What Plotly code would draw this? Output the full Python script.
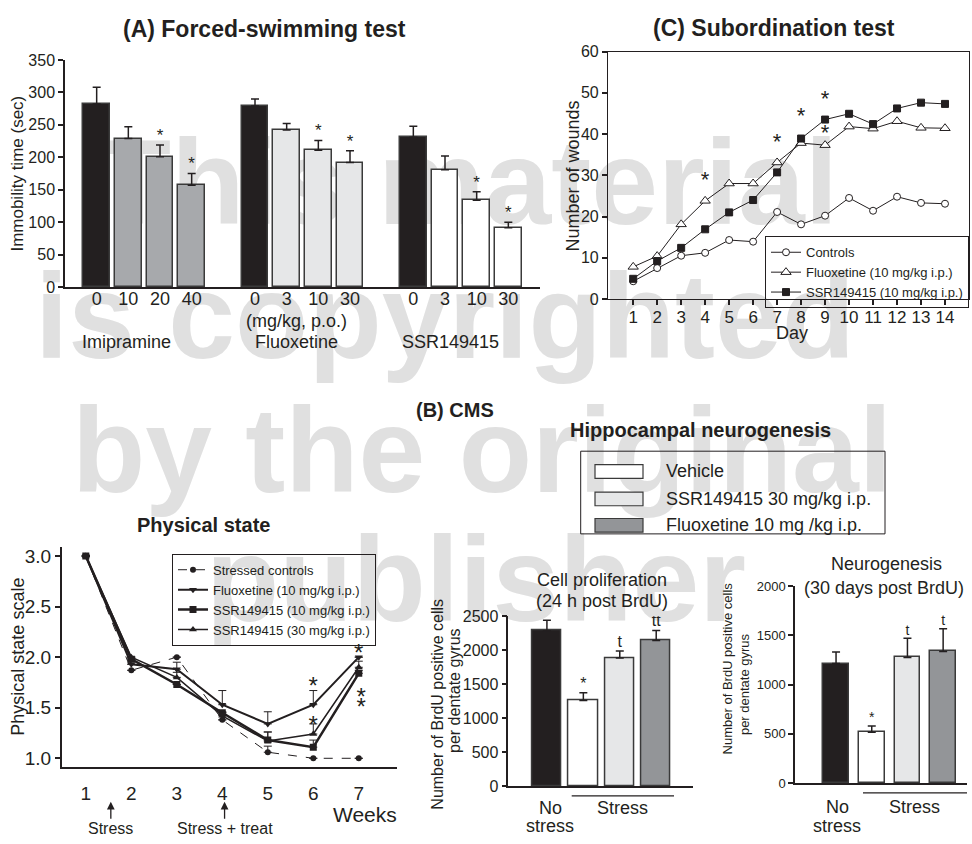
import plotly.graph_objects as go

W, H = 972, 844
FONT = "Liberation Sans, Arial, Helvetica, sans-serif"
INK = "#231f20"
WM = "#e0e0e0"

# ---------------- data ----------------
# (A) Forced-swimming test
fst_drugs = ["Imipramine", "Fluoxetine", "SSR149415"]
fst_doses = [["0", "10", "20", "40"], ["0", "3", "10", "30"], ["0", "3", "10", "30"]]
fst_mean = [[282, 229, 201, 157], [279, 242, 211, 192], [231, 181, 134, 91.5]]
fst_sem = [[26, 18, 18, 18], [11, 10, 15, 18], [17, 21, 13, 8.5]]
fst_sig = [["", "", "*", "*"], ["", "", "*", "*"], ["", "", "*", "*"]]
fst_vehicle_color = INK
fst_drug_colors = ["#a7a9ac", "#e6e7e8", "#ffffff"]

# (C) Subordination test
days = list(range(1, 15))
wounds_controls = [4.3, 7.5, 10.5, 11.2, 14.3, 13.9, 21.1, 18.1, 20.2, 24.5, 21.4, 24.8, 23.3, 23.1]
wounds_fluox = [7.8, 10.4, 18.1, 23.8, 28.0, 28.0, 33.1, 37.8, 37.3, 41.8, 41.3, 43.1, 41.5, 41.4]
wounds_ssr = [4.9, 9.2, 12.4, 16.9, 21.0, 24.0, 30.7, 38.9, 43.5, 44.9, 42.4, 46.2, 47.6, 47.3]
wound_star_day = [4, 7, 8, 9, 9]
wound_star_y = [28.6, 37.7, 44.0, 48.2, 39.9]

# (B) CMS - physical state
weeks = [1, 2, 3, 4, 5, 6, 7]
ps_names = ["Stressed controls", "Fluoxetine (10 mg/kg i.p.)",
            "SSR149415 (10 mg/kg i.p.)", "SSR149415 (30 mg/kg i.p.)"]
ps_controls = [3.0, 1.87, 2.0, 1.38, 1.06, 1.0, 1.0]
ps_controls_err = [0, 0, 0, 0, 0.06, 0, 0]
ps_fluox = [3.0, 1.93, 1.88, 1.53, 1.34, 1.53, 2.0]
ps_fluox_err = [0, 0, 0.07, 0.14, 0.12, 0.14, 0]
ps_ssr10 = [3.0, 1.98, 1.73, 1.45, 1.18, 1.11, 1.84]
ps_ssr10_err = [0, 0, 0, 0, 0.08, 0.07, 0.03]
ps_ssr30 = [3.0, 2.0, 1.80, 1.42, 1.17, 1.24, 1.90]
ps_ssr30_err = [0, 0, 0.05, 0.04, 0.09, 0.10, 0.06]
ps_star_week = [6, 6, 7, 7.05, 7.05]
ps_star_y = [1.69, 1.31, 2.02, 1.59, 1.49]
stress_weeks = [1.55, 4.05]
stress_labels = ["Stress", "Stress + treat"]

# (B) Hippocampal neurogenesis
hc_legend = ["Vehicle", "SSR149415 30 mg/kg i.p.", "Fluoxetine 10 mg /kg i.p."]
hc_colors = [INK, "#ffffff", "#e6e7e8", "#939598"]
prolif_mean = [2287, 1258, 1883, 2143]
prolif_sem = [153, 115, 105, 148]
prolif_sig = ["", "*", "t", "tt"]
neuro_mean = [1213, 517, 1275, 1335]
neuro_sem = [119, 63, 196, 232]
neuro_sig = ["", "*", "t", "t"]

watermark = ["This material", "is copyrighted", "by the original", "publisher"]


def px(x):
    return x / W


def py(y):
    return 1 - y / H


fig = go.Figure()

# ---------------- panel A ----------------
xa, ya, ea, ca, sa, ta = [], [], [], [], [], []
for g in range(len(fst_drugs)):
    for i in range(len(fst_doses[g])):
        xa.append(g * 5 + i)
        ya.append(fst_mean[g][i])
        ea.append(fst_sem[g][i])
        ca.append(fst_vehicle_color if i == 0 else fst_drug_colors[g])
        sa.append(fst_sig[g][i])
        ta.append(fst_doses[g][i])

err_style = dict(type="data", symmetric=False, color=INK, thickness=1.5, width=4)
bar_line = dict(color="#3a3a3a", width=1.5)

fig.add_trace(go.Bar(x=xa, y=ya, width=0.85, marker=dict(color=ca, line=bar_line),
                     error_y=dict(array=ea, arrayminus=[0] * len(ea), **err_style),
                     xaxis="x", yaxis="y", showlegend=False))
fig.add_trace(go.Scatter(x=xa, y=[m + e for m, e in zip(ya, ea)], text=sa, mode="text",
                         textposition="top center", textfont=dict(size=17, color=INK, family=FONT),
                         xaxis="x", yaxis="y", showlegend=False))

# ---------------- panel C ----------------
line_c = dict(color=INK, width=1)
fig.add_trace(go.Scatter(x=days, y=wounds_controls, name="Controls", mode="lines+markers",
                         line=line_c, marker=dict(symbol="circle", size=7, color="white",
                                                  line=dict(color=INK, width=1)),
                         xaxis="x2", yaxis="y2", legend="legend"))
fig.add_trace(go.Scatter(x=days, y=wounds_fluox, name="Fluoxetine (10 mg/kg i.p.)", mode="lines+markers",
                         line=line_c, marker=dict(symbol="triangle-up", size=9, color="white",
                                                  line=dict(color=INK, width=1)),
                         xaxis="x2", yaxis="y2", legend="legend"))
fig.add_trace(go.Scatter(x=days, y=wounds_ssr, name="SSR149415 (10 mg/kg i.p.)", mode="lines+markers",
                         line=line_c, marker=dict(symbol="square", size=7, color=INK,
                                                  line=dict(color=INK, width=1)),
                         xaxis="x2", yaxis="y2", legend="legend"))
fig.add_trace(go.Scatter(x=wound_star_day, y=wound_star_y, text=["*"] * len(wound_star_day), mode="text",
                         textfont=dict(size=22, color=INK, family=FONT),
                         xaxis="x2", yaxis="y2", showlegend=False))

# ---------------- panel B physical state ----------------
ps_series = [(ps_controls, ps_controls_err, "circle", dict(color=INK, width=1, dash="dash"), 6),
             (ps_fluox, ps_fluox_err, "triangle-down", dict(color=INK, width=2), 7),
             (ps_ssr10, ps_ssr10_err, "square", dict(color=INK, width=2.5), 7),
             (ps_ssr30, ps_ssr30_err, "triangle-up", dict(color=INK, width=1.5), 7)]
for name, (vals, errs, sym, ln, ms) in zip(ps_names, ps_series):
    fig.add_trace(go.Scatter(x=weeks, y=vals, name=name, mode="lines+markers", line=ln,
                             marker=dict(symbol=sym, size=ms, color=INK),
                             error_y=dict(type="data", symmetric=False, array=errs,
                                          arrayminus=[0] * len(errs), color=INK, thickness=1, width=4),
                             xaxis="x3", yaxis="y3", legend="legend2"))
fig.add_trace(go.Scatter(x=ps_star_week, y=ps_star_y, text=["*"] * len(ps_star_week), mode="text",
                         textfont=dict(size=24, color=INK, family=FONT),
                         xaxis="x3", yaxis="y3", showlegend=False))

# ---------------- cell proliferation ----------------
xb = list(range(len(prolif_mean)))
fig.add_trace(go.Bar(x=xb, y=prolif_mean, width=0.8, marker=dict(color=hc_colors, line=bar_line),
                     error_y=dict(array=prolif_sem, arrayminus=[0] * 4, **err_style),
                     xaxis="x4", yaxis="y4", showlegend=False))
fig.add_trace(go.Scatter(x=xb, y=[m + e for m, e in zip(prolif_mean, prolif_sem)], text=prolif_sig,
                         mode="text", textposition="top center",
                         textfont=dict(size=16, color=INK, family=FONT),
                         xaxis="x4", yaxis="y4", showlegend=False))

# ---------------- neurogenesis ----------------
fig.add_trace(go.Bar(x=xb, y=neuro_mean, width=0.72, marker=dict(color=hc_colors, line=bar_line),
                     error_y=dict(array=neuro_sem, arrayminus=[0] * 4, **err_style),
                     xaxis="x5", yaxis="y5", showlegend=False))
fig.add_trace(go.Scatter(x=xb, y=[m + e for m, e in zip(neuro_mean, neuro_sem)], text=neuro_sig,
                         mode="text", textposition="top center",
                         textfont=dict(size=14, color=INK, family=FONT),
                         xaxis="x5", yaxis="y5", showlegend=False))

# ---------------- axes ----------------
def ax(**kw):
    base = dict(showline=True, linecolor=INK, linewidth=1.5, showgrid=False, zeroline=False,
                ticks="outside", tickcolor=INK, ticklen=5, tickwidth=1.5,
                tickfont=dict(family=FONT, color=INK, size=16))
    base.update(kw)
    return base


fig.update_layout(
    xaxis=ax(domain=[px(65), px(540)], range=[-1.0, 14.0], anchor="y", tickvals=xa, ticktext=ta,
             ticks="", ticklabelstandoff=-6, tickfont=dict(family=FONT, color=INK, size=18)),
    yaxis=ax(domain=[py(285), py(53)], range=[0, 350], dtick=50, anchor="x"),
    xaxis2=ax(domain=[px(608), px(969)], range=[-0.05, 15], anchor="y2", tickvals=days, mirror=True,
              ticklabelstandoff=-3, tickfont=dict(family=FONT, color=INK, size=17), linewidth=1.2),
    yaxis2=ax(domain=[py(297), py(44.4)], range=[0, 60], dtick=10, anchor="x2", mirror=True, linewidth=1.2),
    xaxis3=ax(domain=[px(61.7), px(397)], range=[0.47, 7.84], anchor="y3", tickvals=weeks, ticks="",
              ticklabelstandoff=8, tickfont=dict(family=FONT, color=INK, size=19)),
    yaxis3=ax(domain=[py(775), py(550)], range=[0.91, 3.09], tickvals=[1, 1.5, 2, 2.5, 3],
              tickformat=".1f", anchor="x3", tickfont=dict(family=FONT, color=INK, size=19)),
    xaxis4=ax(domain=[px(508.3), px(693)], range=[-1.06, 4.01], anchor="y4", showticklabels=False, ticks=""),
    yaxis4=ax(domain=[py(794), py(620.7)], range=[0, 2500], dtick=500, anchor="x4"),
    xaxis5=ax(domain=[px(795), px(966.7)], range=[-1.15, 3.66], anchor="y5", showticklabels=False, ticks=""),
    yaxis5=ax(domain=[py(791), py(590)], range=[0, 2000], dtick=500, anchor="x5",
              tickfont=dict(family=FONT, color=INK, size=13)),
)

# ---------------- legends ----------------
leg_common = dict(xanchor="left", yanchor="top", bordercolor=INK, borderwidth=1,
                  bgcolor="rgba(0,0,0,0)", font=dict(family=FONT, size=13, color=INK),
                  tracegroupgap=0)
fig.update_layout(
    legend=dict(x=px(765), y=py(233), **leg_common),
    legend2=dict(x=px(172), y=py(557), **leg_common),
)

# ---------------- annotations ----------------
ann = []


def text(x, y, s, size, bold=False, angle=0, xanchor="center", **kw):
    ann.append(dict(x=x, y=y, xref="paper", yref="paper", text=f"<b>{s}</b>" if bold else s,
                    showarrow=False, xanchor=xanchor, yanchor="middle", textangle=angle,
                    font=dict(family=FONT, size=size, color=INK), **kw))


text(px(264), py(21), "(A) Forced-swimming test", 23, bold=True)
text(px(774), py(20), "(C) Subordination test", 23, bold=True)
text(px(455), py(410), "(B) CMS", 20, bold=True)
text(px(700), py(431), "Hippocampal neurogenesis", 20, bold=True)
text(px(203), py(528), "Physical state", 20, bold=True)

text(px(18), py(169), "Immobility time (sec)", 17, angle=-90)
text(px(296), py(319), "(mg/kg, p.o.)", 18)
for name, cx in zip(fst_drugs, [127, 296, 450]):
    text(px(cx), py(341), name, 18)

text(px(573), py(172), "Number of wounds", 18, angle=-90)
text(px(792), py(332), "Day", 18)

text(px(18), py(662), "Physical state scale", 18, angle=-90)
text(px(365), py(823), "Weeks", 21)
for wk, lab in zip(stress_weeks, stress_labels):
    ann.append(dict(x=wk, y=py(810), xref="x3", yref="paper", text=lab, showarrow=True,
                    ax=0, ay=27, arrowhead=2, arrowsize=1.2, arrowwidth=1.3, arrowcolor=INK,
                    font=dict(family=FONT, size=16, color=INK)))

# cell proliferation
text(px(602), py(584), "Cell proliferation", 18)
text(px(602), py(605), "(24 h post BrdU)", 18)
text(px(438), py(711), "Number of BrdU positive cells", 16, angle=-90)
text(px(455), py(697), "per dentate gyrus", 16, angle=-90)
text(px(550), py(816), "No", 18)
text(px(550), py(835), "stress", 18)
text(px(622), py(816), "Stress", 18)

# neurogenesis
text(px(886), py(567), "Neurogenesis", 18)
text(px(884), py(592), "(30 days post BrdU)", 18)
text(px(727), py(674), "Number of BrdU positive cells", 13, angle=-90)
text(px(744), py(690), "per dentate gyrus", 13, angle=-90)
text(px(837), py(815), "No", 18)
text(px(837), py(835), "stress", 18)
text(px(914), py(815), "Stress", 18)

# hippocampal legend labels
leg_rows = [473, 501, 528]
for lab, ry in zip(hc_legend, leg_rows):
    text(px(664), py(ry), lab, 18, xanchor="left")

fig.update_layout(annotations=ann)

# ---------------- shapes ----------------
shapes = []
# watermark (behind everything)
for s, (cx, cy) in zip(watermark, [(468, 166), (445, 304), (482, 440), (476, 572)]):
    shapes.append(dict(type="rect", xref="paper", yref="paper", layer="below",
                       x0=px(cx - 480), x1=px(cx + 480), y0=py(cy + 60), y1=py(cy - 60),
                       line=dict(width=0), fillcolor="rgba(0,0,0,0)",
                       label=dict(text=s, textposition="middle center",
                                  font=dict(family=FONT, size=120, color=WM, weight="bold"))))
# bracket lines under "Stress"
shapes.append(dict(type="line", xref="paper", yref="paper", x0=px(571.7), x1=px(674), y0=py(804), y1=py(804),
                   line=dict(color=INK, width=1.2)))
shapes.append(dict(type="line", xref="paper", yref="paper", x0=px(863), x1=px(967), y0=py(801), y1=py(801),
                   line=dict(color=INK, width=1.2)))
# hippocampal legend box and swatches
shapes.append(dict(type="rect", xref="paper", yref="paper", x0=px(580.7), x1=px(885), y0=py(536.7), y1=py(452.3),
                   line=dict(color=INK, width=1), fillcolor="rgba(0,0,0,0)"))
for col, ry in zip(hc_colors[1:], leg_rows):
    shapes.append(dict(type="rect", xref="paper", yref="paper", x0=px(595), x1=px(643),
                       y0=py(ry + 7), y1=py(ry - 7), line=dict(color="#3a3a3a", width=1.2), fillcolor=col))
fig.update_layout(shapes=shapes)

fig.update_layout(width=W, height=H, autosize=False, margin=dict(l=0, r=0, t=0, b=0),
                  paper_bgcolor="white", plot_bgcolor="rgba(0,0,0,0)", bargap=0,
                  font=dict(family=FONT, color=INK))

fig.write_html("out.html")
